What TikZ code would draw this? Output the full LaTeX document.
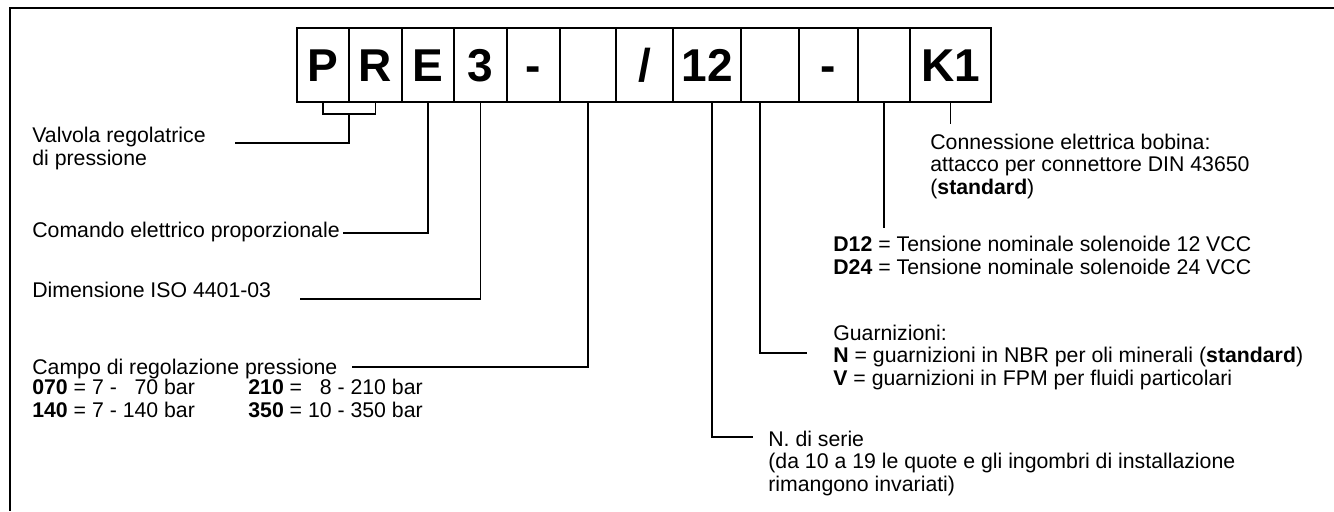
\documentclass[tikz,border=0pt]{standalone}
\usepackage{fontspec}
\setmainfont{Liberation Sans}
\usepackage{tikz}
\usetikzlibrary{calc}
\newcommand{\cellheight}{1.48cm}
\newcommand{\thickness}{0.6pt}
\newcommand{\bigfont}{\fontsize{26.2}{28}\selectfont\bfseries}
\newcommand{\txtfont}{\fontsize{12.1}{12.6}\selectfont}
\tikzset{
  cell/.style={draw, line width=0.75pt, minimum height=\cellheight, text height=18.8pt, text depth=0pt, inner sep=0pt, outer sep=0pt, font=\bigfont},
  lbl/.style={anchor=base west, align=left, inner sep=0pt, font=\txtfont},
  lead/.style={line width=\thickness}
}

\begin{document}
\begin{tikzpicture}
\useasboundingbox (0,0) rectangle (26.68,-10.22);
%frame
\draw[line width=0.85pt] (26.68,-0.16) -- (0.2,-0.16) -- (0.2,-10.22);
%code cells
\node[cell, minimum width=1.04cm] (1) at (6.46, -1.30) {P};
\node[cell, minimum width=1.06cm] (2) at (7.51, -1.30) {R};
\node[cell, minimum width=1.04cm] (3) at (8.56, -1.30) {E};
\node[cell, minimum width=1.06cm] (4) at (9.61, -1.30) {3};
\node[cell, minimum width=1.06cm] (5) at (10.67, -1.30) {-};
\node[cell, minimum width=1.12cm] (6) at (11.76, -1.30) {};
\node[cell, minimum width=1.14cm] (7) at (12.89, -1.30) {/};
\node[cell, minimum width=1.36cm] (8) at (14.14, -1.30) {12};
\node[cell, minimum width=1.16cm] (9) at (15.40, -1.30) {};
\node[cell, minimum width=1.18cm] (10) at (16.57, -1.30) {-};
\node[cell, minimum width=1.04cm] (11) at (17.68, -1.30) {};
\node[cell, minimum width=1.62cm] (12) at (19.01, -1.30) {K1};
%left texts (base = last line)
\node[lbl] (valv) at (0.64, -3.30) {Valvola regolatrice\\di pressione};
\node[lbl] (com) at (0.64, -4.74) {Comando elettrico proporzionale};
\node[lbl] (dim) at (0.64, -5.94) {Dimensione ISO 4401-03};
\node[lbl] (campo) at (0.64, -7.48) {Campo di regolazione pressione};
\node[lbl] (p1) at (0.64, -8.34) {\textbf{070} = 7 - \phantom{1}70 bar\\\textbf{140} = 7 - 140 bar};
\node[lbl] (p2) at (4.96, -8.34) {\textbf{210} = \phantom{1}8 - 210 bar\\\textbf{350} = 10 - 350 bar};
%right texts
\node[lbl] (conn) at (18.60, -3.88) {Connessione elettrica bobina:\\attacco per connettore DIN 43650\\(\textbf{standard})};
\node[lbl] (tens) at (16.66, -5.48) {\textbf{D12} = Tensione nominale solenoide 12 VCC\\\textbf{D24} = Tensione nominale solenoide 24 VCC};
\node[lbl] (guar) at (16.66, -7.70) {Guarnizioni:\\\textbf{N} = guarnizioni in NBR per oli minerali (\textbf{standard})\\\textbf{V} = guarnizioni in FPM per fluidi particolari};
\node[lbl] (serie) at (15.36, -9.82) {N. di serie\\(da 10 a 19 le quote e gli ingombri di installazione\\rimangono invariati)};
%line ends
\coordinate (cvalv) at (4.70, -2.86);
\coordinate (ccom) at (6.86, -4.66);
\coordinate (cdim) at (6.00, -5.98);
\coordinate (ccampo) at (7.04, -7.34);
\coordinate (cserie) at (15.06, -8.74);
\coordinate (cguar) at (16.14, -7.06);
\coordinate (ctens) at (17.68, -4.56);
\coordinate (cconn) at (19.01, -2.48);
%leaders
\draw[lead] (1.south) -- ++(0,-0.24) -| (2.south);
\draw[lead] (1.south east) ++(0,-0.24) |- (cvalv);
\draw[lead] (3.south) |- (ccom);
\draw[lead] (4.south) |- (cdim);
\draw[lead] (6.south) |- (ccampo);
\draw[lead] ([xshift=0.1cm]8.south) |- (cserie);
\draw[lead] ([xshift=-0.2cm]9.south) |- (cguar);
\draw[lead] (11.south) -- (ctens);
\draw[lead] (12.south) -- (cconn);
\end{tikzpicture}
\end{document}
